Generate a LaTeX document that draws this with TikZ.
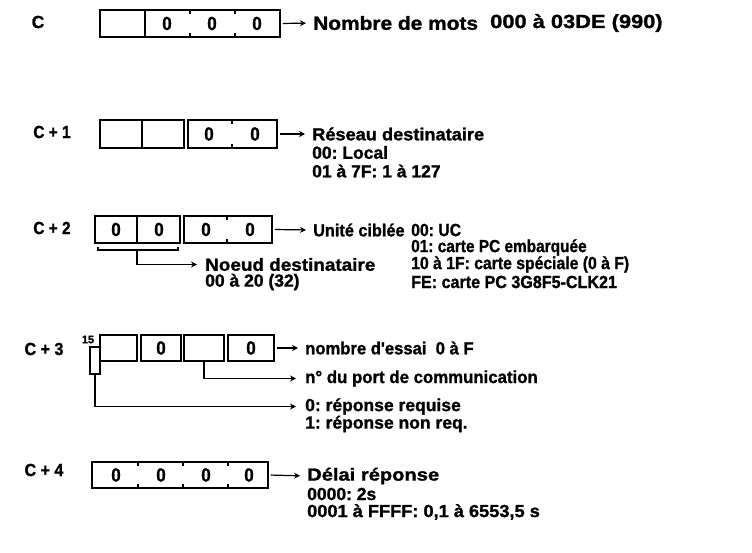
\documentclass[tikz,border=0pt]{standalone}
\usepackage{fontspec}
\usepackage{graphicx}
\setmainfont{Liberation Sans}
\newfontfamily\hv[FakeBold=1.2]{Liberation Sans Bold}
\frenchspacing
\usetikzlibrary{arrows.meta}
\newcommand{\sx}[2]{\scalebox{#1}[1]{#2}}
\begin{document}
\begin{tikzpicture}[x=1pt,y=-1pt,
  txt/.style={font=\hv\fontsize{17.5}{18}\selectfont, inner sep=0pt, anchor=west},
  bigtxt/.style={font=\hv\fontsize{19}{20}\selectfont, inner sep=0pt, anchor=west},
  dig/.style={font=\hv\fontsize{19}{20}\selectfont, inner sep=0pt},
  small/.style={font=\hv\fontsize{11}{12}\selectfont, inner sep=0pt},
  cellbox/.style={draw, line width=1.5pt, inner sep=0pt},
  tick/.style={line width=1.2pt},
  arr/.style={line width=1.2pt, -{Stealth[length=6pt,width=6pt]}},
  shortarr/.style={line width=1.2pt, -{Stealth[length=6pt,width=6pt]}, shorten <=2pt, shorten >=7pt},
  conn/.style={line width=1.2pt}
]
\useasboundingbox (0,0) rectangle (752,552);

% ---------- Row C ----------
\node[txt, anchor=center] (lc) at (38,22) {C};
\node[cellbox, minimum width=180pt, minimum height=27pt] (b0) at (190,23.5) {};
\draw[conn] (145,10) -- (145,37);
\draw[tick] (190,10) -- (190,14) (190,33) -- (190,37);
\draw[tick] (235,10) -- (235,14) (235,33) -- (235,37);
\node[dig] (d01) at (167,23.5) {\sx{0.9}{0}};
\node[dig] (d02) at (212,23.5) {\sx{0.9}{0}};
\node[dig] (d03) at (257,23.5) {\sx{0.9}{0}};
\node[bigtxt] (t0) at (313,23) {\sx{1.1}{Nombre de mots}};
\node[bigtxt] (t0b) at (490,23) {\sx{1.15}{000 à 03DE (990)}};
\draw[shortarr] (b0.east) -- (t0.west);

% ---------- Row C+1 ----------
\node[txt, anchor=center] (lc1) at (52,132) {\sx{0.88}{C + 1}};
\node[cellbox, minimum width=84pt, minimum height=28pt] (b1a) at (142,134) {};
\draw[conn] (142,120) -- (142,148);
\node[cellbox, minimum width=89pt, minimum height=28pt] (b1b) at (232.5,134) {};
\draw[tick] (232,120) -- (232,124) (232,144) -- (232,148);
\node[dig] (d11) at (209,134) {\sx{0.9}{0}};
\node[dig] (d12) at (255,134) {\sx{0.9}{0}};
\node[txt] (t1) at (312,134) {\sx{1.04}{Réseau destinataire}};
\node[txt] (t1b) at (312,152.5) {00: Local};
\node[txt] (t1c) at (312,171) {01 à 7F: 1 à 127};
\draw[shortarr] (b1b.east) -- (t1.west);

% ---------- Row C+2 ----------
\node[txt, anchor=center] (lc2) at (52,228) {\sx{0.88}{C + 2}};
\node[cellbox, minimum width=85pt, minimum height=27pt] (b2a) at (137.5,229.5) {};
\draw[conn] (137,216) -- (137,243);
\node[cellbox, minimum width=88pt, minimum height=27pt] (b2b) at (228,229.5) {};
\draw[tick] (227,216) -- (227,220) (227,239) -- (227,243);
\node[dig] (d21) at (116,229.5) {\sx{0.9}{0}};
\node[dig] (d22) at (159,229.5) {\sx{0.9}{0}};
\node[dig] (d23) at (206,229.5) {\sx{0.9}{0}};
\node[dig] (d24) at (250,229.5) {\sx{0.9}{0}};
\node[txt] (t2) at (313,230) {\sx{0.93}{Unité ciblée}};
\node[txt] (t2a) at (411,230) {\sx{0.9}{00: UC}};
\node[txt] (t2b) at (411,247.5) {\sx{0.88}{01: carte PC embarquée}};
\node[txt] (t2c) at (411,264.5) {\sx{0.9}{10 à 1F: carte spéciale (0 à F)}};
\node[txt] (t2d) at (411,282) {\sx{0.92}{FE: carte PC 3G8F5-CLK21}};
\node[txt] (t2n) at (205,264.5) {\sx{1.08}{Noeud destinataire}};
\node[txt] (t2m) at (205,282) {00 à 20 (32)};
\draw[shortarr] (b2b.east) -- (t2.west);
\draw[conn] (98,246.5) -- (98,250) -- (178,250) -- (178,246.5);
\coordinate (brk) at (137,250);
\draw[arr, shorten >=8pt] (brk) |- (t2n.west);

% ---------- Row C+3 ----------
\node[txt, anchor=center] (lc3) at (44,349) {\sx{0.92}{C + 3}};
\node[small] (n15) at (88,339.5) {15};
\node[cellbox, minimum width=10pt, minimum height=27pt] (r15) at (95,360.5) {};
\node[cellbox, minimum width=37pt, minimum height=26pt] (c31) at (118.5,348) {};
\node[cellbox, minimum width=40pt, minimum height=26pt] (c32) at (161,348) {};
\node[cellbox, minimum width=40pt, minimum height=26pt] (c33) at (204,348) {};
\node[cellbox, minimum width=46pt, minimum height=26pt] (c34) at (251,348) {};
\node[dig] (d31) at (161,348) {\sx{0.9}{0}};
\node[dig] (d32) at (251,348) {\sx{0.9}{0}};
\node[txt] (t3) at (305,348) {\sx{0.95}{nombre d'essai\ \ 0 à F}};
\node[txt] (t3p) at (305,378.5) {\sx{0.96}{n° du port de communication}};
\node[txt] (t3r) at (305,406.5) {0: réponse requise};
\node[txt] (t3s) at (305,424) {1: réponse non req.};
\draw[shortarr] (c34.east) -- (t3.west);
\draw[arr, shorten >=9pt] (c33.south) |- (t3p.west);
\draw[arr, shorten >=9pt] (r15.south) |- (t3r.west);

% ---------- Row C+4 ----------
\node[txt, anchor=center] (lc4) at (44,470) {\sx{0.92}{C + 4}};
\node[cellbox, minimum width=176pt, minimum height=26pt] (b4) at (180,475) {};
\draw[tick] (138,462) -- (138,466) (138,484) -- (138,488);
\draw[tick] (183,462) -- (183,466) (183,484) -- (183,488);
\draw[tick] (228,462) -- (228,466) (228,484) -- (228,488);
\node[dig] (d41) at (116,475) {\sx{0.9}{0}};
\node[dig] (d42) at (161,475) {\sx{0.9}{0}};
\node[dig] (d43) at (206,475) {\sx{0.9}{0}};
\node[dig] (d44) at (249,475) {\sx{0.9}{0}};
\node[txt] (t4) at (307,476) {\sx{1.15}{Délai réponse}};
\node[txt] (t4b) at (307,494) {0000: 2s};
\node[txt] (t4c) at (307,512) {\sx{1.04}{0001 à FFFF: 0,1 à 6553,5 s}};
\draw[shortarr] (b4.east) -- (t4.west);
\end{tikzpicture}
\end{document}
